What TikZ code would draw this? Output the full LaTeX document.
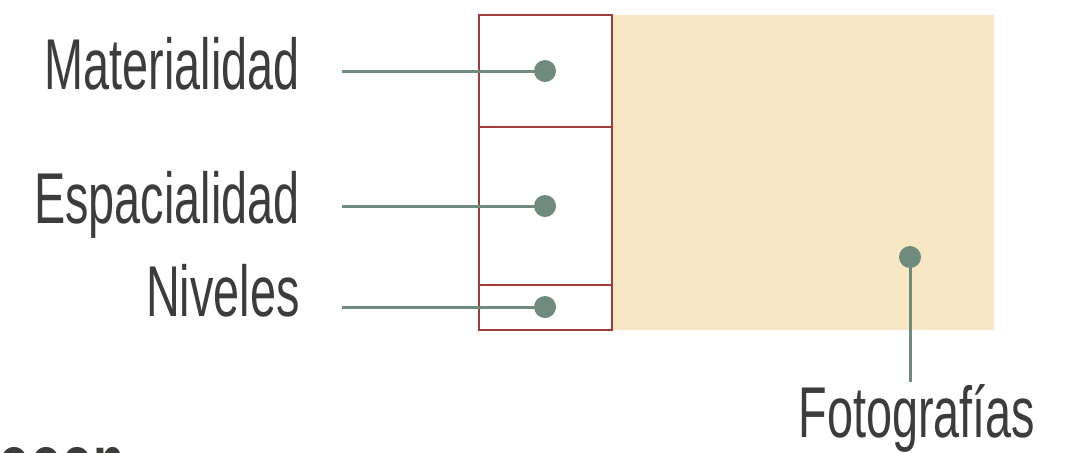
\documentclass[tikz,border=0pt]{standalone}
\usepackage{fontspec}
\newfontfamily\labelfont[FakeStretch=0.65]{Liberation Sans}
\definecolor{dotgreen}{HTML}{6E8B7E}
\definecolor{boxred}{HTML}{A33B3B}
\definecolor{phototan}{HTML}{F7E7C4}
\definecolor{textgray}{HTML}{3C3C3A}
\tikzset{
  dot/.style={circle,fill=dotgreen,inner sep=0pt,minimum size=11pt},
  lead/.style={draw=dotgreen,line width=1.5pt},
  lab/.style={font=\labelfont\fontsize{36}{36}\selectfont,text=textgray,inner sep=0pt},
}
\begin{document}
\begin{tikzpicture}[x=0.5pt,y=-0.5pt]
\useasboundingbox (0,0) rectangle (1092,452);
\fill[phototan] (612,15) rectangle (994,330);
\draw[boxred,line width=1.2pt] (479,15) rectangle (612,330);
\foreach \y in {127,285} \draw[boxred,line width=1.2pt] (479,\y) -- (612,\y);

\node[lab,anchor=base east] (mat) at (300,89) {Materialidad};
\node[lab,anchor=base east] (esp) at (300,223) {Espacialidad};
\node[lab,anchor=base east] (niv) at (300,316) {Niveles};
\node[lab,anchor=base west] (fot) at (798,437) {Fotografías};
\node[lab,font=\labelfont\bfseries\fontsize{40}{40}\selectfont,anchor=base west] (cut) at (-2,490) {ooon};

\node[dot] (dmat) at (545,71) {};
\node[dot] (desp) at (545,206) {};
\node[dot] (dniv) at (545,307) {};
\node[dot] (dfot) at (910,257) {};

\foreach \n/\y in {mat/71,esp/206,niv/307} {
\coordinate (s\n) at (342,\y);
\draw[lead] (s\n) -- (d\n.center);
}
\coordinate (sfot) at (910,382);
\draw[lead] (sfot) -- (dfot.center);
\end{tikzpicture}
\end{document}
